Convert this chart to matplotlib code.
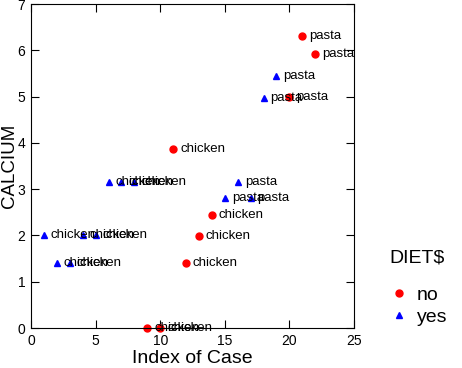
import matplotlib.pyplot as plt
import numpy as np

plt.rcParams['font.family'] = ['Liberation Sans', 'DejaVu Sans']

# case index, calcium value, food label, diet flag
case_idx = [1, 2, 3, 4, 5, 6, 7, 8, 9, 10, 11, 12, 13, 14,
            15, 16, 17, 18, 19, 20, 21, 22]
calcium = [2.0, 1.4, 1.4, 2.0, 2.0, 3.15, 3.15, 3.15, 0.0, 0.0, 3.87, 1.41, 1.99, 2.45,
           2.8, 3.15, 2.8, 4.97, 5.45, 4.99, 6.31, 5.91]
food = ['chicken'] * 14 + ['pasta'] * 8
diet = ['yes'] * 8 + ['no'] * 6 + ['yes'] * 5 + ['no'] * 3

diet_groups = ['no', 'yes']
diet_colors = {'no': 'red', 'yes': 'blue'}
diet_markers = {'no': 'o', 'yes': '^'}

x = np.array(case_idx)
y = np.array(calcium)
d = np.array(diet)

fig = plt.figure(figsize=(4.62, 3.68), dpi=100)
ax = fig.add_axes([31/462, 40/368, 323/462, 324/368])

for g in diet_groups:
    m = d == g
    ax.plot(x[m], y[m], linestyle='none', marker=diet_markers[g],
            color=diet_colors[g], markersize=5, label=g, clip_on=False)

for xi, yi, lab in zip(x, y, food):
    ax.annotate(lab, (xi, yi), xytext=(5, 0), textcoords='offset points',
                va='center', ha='left', fontsize=9.5)

ax.set_xlim(0, 25)
ax.set_ylim(0, 7)
ax.set_xticks([0, 5, 10, 15, 20, 25])
ax.set_yticks(range(8))
ax.tick_params(direction='in', top=True, right=True, length=6, labelsize=10, pad=4)
ax.set_xlabel('Index of Case', fontsize=14, labelpad=2)
ax.set_ylabel('CALCIUM', fontsize=13.5, labelpad=0)

leg = ax.legend(title='DIET$', loc='upper left', bbox_to_anchor=(370/462, 1 - 232/368),
                bbox_transform=fig.transFigure, frameon=False, fontsize=14,
                title_fontsize=14, handletextpad=0.3, handlelength=1.2,
                labelspacing=0.25)
leg._legend_box.sep = 14

fig.savefig('out.png', dpi=100)
